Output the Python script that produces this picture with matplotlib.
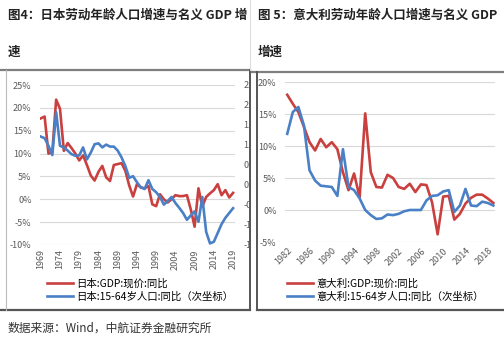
import numpy as np
import matplotlib
matplotlib.use('Agg')
import matplotlib.pyplot as plt
from matplotlib.lines import Line2D
from matplotlib.patches import Rectangle
from matplotlib.ticker import FuncFormatter

plt.rcParams['font.family'] = ['Noto Sans CJK SC', 'DejaVu Sans']

# 日本（1969-2019）
jp_years = list(range(1969, 2020))
jp_gdp = [17.7, 18.1, 10.0, 10.3, 21.8, 19.8, 10.6, 12.3, 11.2, 10.0,
          8.5, 9.6, 7.5, 5.2, 4.1, 6.0, 7.3, 4.8, 4.0, 7.5,
          7.7, 7.9, 6.2, 3.0, 0.6, 3.3, 2.6, 2.4, 2.9, -1.1,
          -1.5, 1.1, 0.0, -0.7, 0.0, 0.9, 0.7, 0.7, 0.9, -2.2,
          -6.0, 2.4, -1.6, 0.5, 1.3, 2.0, 3.3, 0.9, 2.0, 0.4,
          1.4]
jp_pop = [1.21, 1.17, 0.98, 0.75, 1.82, 0.98, 0.94, 0.86, 0.77, 0.73,
          0.74, 0.94, 0.64, 0.81, 1.02, 1.04, 0.94, 1.01, 0.96, 0.96,
          0.86, 0.69, 0.47, 0.18, 0.22, 0.07, -0.06, -0.10, 0.12, -0.10,
          -0.18, -0.30, -0.49, -0.40, -0.30, -0.45, -0.57, -0.70, -0.87, -0.76,
          -0.66, -0.92, -0.30, -1.17, -1.46, -1.42, -1.20, -0.98, -0.82, -0.70,
          -0.58]
jp_ticks = list(range(1969, 2020, 5))

# 意大利（1982-2019）
it_years = list(range(1982, 2020))
it_gdp = [18.0, 16.6, 15.3, 13.0, 10.6, 9.3, 11.1, 9.8, 10.6, 9.5,
          5.9, 3.1, 5.7, 2.0, 15.1, 5.9, 3.6, 3.5, 5.5, 5.0,
          3.6, 3.3, 4.1, 2.8, 4.0, 3.9, 1.2, -3.8, 2.1, 2.2,
          -1.5, -0.6, 1.0, 1.9, 2.4, 2.4, 1.8, 1.1]
it_pop = [11.9, 15.3, 16.1, 13.2, 6.2, 4.6, 3.8, 3.7, 3.6, 2.2,
          9.5, 3.6, 3.1, 1.8, 0.0, -0.8, -1.4, -1.3, -0.7, -0.8,
          -0.6, -0.2, 0.0, 0.0, 0.0, 1.5, 2.2, 2.3, 2.9, 3.1,
          -0.3, 0.7, 3.3, 0.7, 0.6, 1.3, 1.1, 0.7]
it_ticks = list(range(1982, 2019, 4))

red = '#C9403F'
blue = '#4A80C6'
grid_c = '#D9D9D9'
tick_c = '#595959'
W, H = 504, 341


def fx(x):
    return x / W


def fy(y):
    return 1 - y / H


fig = plt.figure(figsize=(W / 100, H / 100), dpi=100)

# ---- 图4 日本 ----
ax1 = fig.add_axes([fx(40), fy(245), fx(235) - fx(40), fy(85) - fy(245)])
ax1b = ax1.twinx()
l1, = ax1.plot(jp_years, jp_gdp, color=red, lw=1.9, label='日本:GDP:现价:同比')
l2, = ax1b.plot(jp_years, jp_pop, color=blue, lw=1.9, label='日本:15-64岁人口:同比（次坐标）')
ax1.set_xlim(1968.8, 2019.5)
ax1.set_ylim(-10, 25)
ax1.set_yticks(np.arange(-10, 26, 5))
ax1b.set_ylim(-1.5, 2.5)
ax1b.set_yticks(np.arange(-1.5, 2.6, 0.5))
ax1.yaxis.set_major_formatter(FuncFormatter(lambda v, p: '%d%%' % v))
# 次坐标标签在原图中被右侧面板截断，只露出前两个字符
ax1b.yaxis.set_major_formatter(FuncFormatter(lambda v, p: ('%.1f%%' % v)[:2]))
ax1.set_xticks(jp_ticks)
ax1.set_xticklabels([str(t) for t in jp_ticks], rotation=90)
ax1.grid(axis='y', color=grid_c, lw=0.8)
ax1.set_axisbelow(True)
ax1.legend(handles=[l1, l2], loc='center left', bbox_to_anchor=(fx(47), fy(290)),
           bbox_transform=fig.transFigure, frameon=False, fontsize=7.5,
           handlelength=2.5, handletextpad=0.3, labelspacing=0.3,
           borderpad=0, borderaxespad=0)

# ---- 图5 意大利 ----
ax2 = fig.add_axes([fx(285), fy(242), fx(495) - fx(285), fy(82) - fy(242)])
ax2b = ax2.twinx()
ax2.set_zorder(12)
ax2b.set_zorder(13)
l3, = ax2.plot(it_years, it_gdp, color=red, lw=1.9, label='意大利:GDP:现价:同比')
l4, = ax2b.plot(it_years, it_pop, color=blue, lw=1.9, label='意大利:15-64岁人口:同比（次坐标）')
ax2.set_xlim(1981.6, 2019.3)
ax2.set_ylim(-5, 20)
ax2b.set_ylim(-5, 20)
ax2b.set_yticks([])
ax2.set_yticks(np.arange(-5, 21, 5))
ax2.yaxis.set_major_formatter(FuncFormatter(lambda v, p: '%d%%' % v))
ax2.set_xticks(it_ticks)
ax2.set_xticklabels([str(t) for t in it_ticks], rotation=45, ha='right',
                    rotation_mode='anchor')
ax2.grid(axis='y', color=grid_c, lw=0.8)
ax2.set_axisbelow(True)
ax2b.legend(handles=[l3, l4], loc='center left', bbox_to_anchor=(fx(287), fy(290)),
            bbox_transform=fig.transFigure, frameon=False, fontsize=7.5,
            handlelength=2.5, handletextpad=0.3, labelspacing=0.3,
            borderpad=0, borderaxespad=0)

for a in (ax1, ax1b, ax2, ax2b):
    for s in a.spines.values():
        s.set_visible(False)
    a.tick_params(length=0, labelsize=6.5, colors=tick_c, pad=6)
ax1.tick_params(axis='x', pad=3)
ax2.tick_params(axis='x', pad=3)

fig.add_artist(Rectangle((fx(249), fy(315)), fx(284) - fx(249), fy(65) - fy(315),
                         transform=fig.transFigure, facecolor='white',
                         edgecolor='none', zorder=10))

# 面板边框
frame_c = '#7F7F7F'
for (x0, y0, x1, y1, c, lw) in [
        (0, 70, 250, 70, frame_c, 1.6), (250, 70, 250, 310, '#555555', 1.4),
        (0, 310, 250, 310, '#555555', 1.6), (6, 70, 6, 310, '#BBBBBB', 0.8),
        (252, 72, 504, 72, frame_c, 1.6), (257, 72, 257, 310, '#555555', 1.4),
        (257, 310, 504, 310, '#555555', 1.6), (250, 0, 250, 70, '#DDDDDD', 0.8)]:
    fig.add_artist(Line2D([fx(x0), fx(x1)], [fy(y0), fy(y1)], transform=fig.transFigure,
                          color=c, lw=lw, zorder=14))

# 标题
fig.text(fx(8), fy(15), '图4：日本劳动年龄人口增速与名义 GDP 增', fontsize=9,
         fontweight='bold', color='#222222', va='center', ha='left')
fig.text(fx(8), fy(52), '速', fontsize=9, fontweight='bold', color='#222222',
         va='center', ha='left')
fig.text(fx(258), fy(15), '图 5：意大利劳动年龄人口增速与名义 GDP', fontsize=9,
         fontweight='bold', color='#222222', va='center', ha='left')
fig.text(fx(258), fy(52), '增速', fontsize=9, fontweight='bold', color='#222222',
         va='center', ha='left')

fig.text(fx(8), fy(328), '数据来源：Wind，中航证券金融研究所', fontsize=8.5,
         style='italic', color='#333333', va='center', ha='left')

fig.savefig('out.png', dpi=100)
